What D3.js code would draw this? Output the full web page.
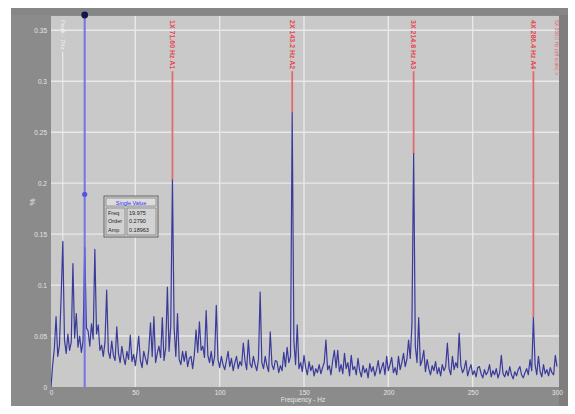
<!DOCTYPE html>
<html>
<head>
<meta charset="utf-8">
<script src="https://cdn.jsdelivr.net/npm/d3@7/dist/d3.min.js"></script>
<style>
  body { margin: 0; background: #fff; }
  svg { display: block; }
</style>
</head>
<body>
<div id="chart"></div>
<script>
// spectrum, one sample per Hz from 0 to 300 Hz
const freqStep = 1;
const amplitudes = [
  0.000, 0.022, 0.038, 0.069, 0.030, 0.041, 0.088, 0.143, 0.046, 0.033,
  0.052, 0.036, 0.044, 0.121, 0.048, 0.072, 0.039, 0.050, 0.034, 0.045,
  0.137, 0.058, 0.055, 0.040, 0.062, 0.047, 0.135, 0.052, 0.061, 0.036,
  0.041, 0.030, 0.044, 0.095, 0.035, 0.028, 0.045, 0.031, 0.026, 0.059,
  0.033, 0.024, 0.040, 0.029, 0.022, 0.035, 0.027, 0.051, 0.025, 0.032,
  0.021, 0.034, 0.050, 0.026, 0.019, 0.035, 0.028, 0.022, 0.037, 0.063,
  0.030, 0.069, 0.024, 0.033, 0.040, 0.029, 0.068, 0.026, 0.038, 0.098,
  0.035, 0.060, 0.203, 0.058, 0.030, 0.072, 0.027, 0.022, 0.035, 0.025,
  0.035, 0.020, 0.028, 0.030, 0.018, 0.032, 0.056, 0.034, 0.064, 0.036,
  0.040, 0.029, 0.075, 0.031, 0.024, 0.035, 0.021, 0.030, 0.080, 0.027,
  0.019, 0.030, 0.022, 0.017, 0.026, 0.035, 0.020, 0.028, 0.016, 0.024,
  0.030, 0.018, 0.025, 0.021, 0.043, 0.026, 0.017, 0.046, 0.023, 0.019,
  0.030, 0.022, 0.016, 0.027, 0.093, 0.024, 0.018, 0.030, 0.021, 0.015,
  0.054, 0.022, 0.017, 0.026, 0.025, 0.014, 0.021, 0.016, 0.034, 0.020,
  0.039, 0.024, 0.030, 0.269, 0.045, 0.022, 0.061, 0.018, 0.024, 0.015,
  0.031, 0.019, 0.012, 0.025, 0.016, 0.021, 0.011, 0.018, 0.014, 0.022,
  0.013, 0.019, 0.024, 0.046, 0.017, 0.021, 0.012, 0.026, 0.036, 0.019,
  0.036, 0.015, 0.022, 0.013, 0.033, 0.018, 0.024, 0.011, 0.031, 0.017,
  0.020, 0.012, 0.028, 0.016, 0.010, 0.021, 0.014, 0.018, 0.009, 0.023,
  0.015, 0.020, 0.011, 0.017, 0.026, 0.013, 0.019, 0.024, 0.012, 0.030,
  0.016, 0.022, 0.029, 0.014, 0.019, 0.012, 0.030, 0.017, 0.024, 0.033,
  0.020, 0.027, 0.046, 0.028, 0.062, 0.229, 0.040, 0.024, 0.068, 0.021,
  0.026, 0.036, 0.015, 0.027, 0.018, 0.012, 0.021, 0.016, 0.025, 0.013,
  0.019, 0.011, 0.022, 0.016, 0.020, 0.043, 0.018, 0.012, 0.030, 0.017,
  0.024, 0.019, 0.053, 0.021, 0.014, 0.018, 0.026, 0.011, 0.017, 0.022,
  0.012, 0.016, 0.010, 0.019, 0.020, 0.013, 0.009, 0.017, 0.012, 0.015,
  0.022, 0.010, 0.016, 0.012, 0.018, 0.009, 0.014, 0.031, 0.013, 0.010,
  0.016, 0.011, 0.020, 0.012, 0.008, 0.015, 0.011, 0.017, 0.020, 0.012,
  0.009, 0.014, 0.018, 0.012, 0.027, 0.016, 0.068, 0.022, 0.012, 0.030,
  0.015, 0.010, 0.022, 0.013, 0.017, 0.011, 0.019, 0.014, 0.012, 0.031,
  0.020
];

const xTicks = [0, 50, 100, 150, 200, 250, 300];
const yTicks = [0, 0.05, 0.1, 0.15, 0.2, 0.25, 0.3, 0.35];
const yTickLabels = ['0', '0.05', '0.1', '0.15', '0.2', '0.25', '0.3', '0.35'];

// harmonic cursors (red), the one past 300 Hz only gets its label at the edge
const harmonicFreqs = [72, 143, 215, 286];
const harmonicLabels = ['1X 71.60 Hz  A1', '2X 143.2 Hz  A2', '3X 214.8 Hz  A3', '4X 286.4 Hz  A4'];
const offscaleLabel = '5X 358.0 Hz  (off scale) >';

// peak cursor (white) and single value cursor (blue)
const peakFreq = 7;
const peakLabel = 'Peak - 7Hz';
const cursorFreq = 19.975;
const cursorAmp = 0.189;
const readoutTitle = 'Single Value';
const readoutNames = ['Freq', 'Order', 'Amp'];
const readoutValues = ['19.975', '0.2790', '0.18963'];

const d3v = window.d3;
const W = 575, H = 414;
const FONT = "'Liberation Sans', Arial, sans-serif";

const svg = d3v.select('#chart').append('svg')
  .attr('width', W).attr('height', H);

// frame
svg.append('rect').attr('x', 11).attr('y', 8).attr('width', 557).attr('height', 398).attr('fill', '#8b8b8b');
svg.append('rect').attr('x', 559).attr('y', 8).attr('width', 9).attr('height', 398).attr('fill', '#7e7e7e');
svg.append('rect').attr('x', 11).attr('y', 8).attr('width', 557).attr('height', 7).attr('fill', '#868686');

const x = d3v.scaleLinear().domain([0, 300]).range([51, 557]);
const y = d3v.scaleLinear().domain([0, 0.364]).range([387, 16]);

// plot area
svg.append('rect').attr('x', 51).attr('y', 16).attr('width', 508).attr('height', 371).attr('fill', '#c9c9c9');

svg.append('clipPath').attr('id', 'clip')
  .append('rect').attr('x', 51).attr('y', 16).attr('width', 508).attr('height', 371);

// Grid
const grid = svg.append('g').attr('stroke', '#e9e9e9').attr('stroke-width', 1.4);
grid.selectAll('.gx').data(xTicks.slice(1, -1)).enter().append('line')
  .attr('x1', d => x(d)).attr('x2', d => x(d)).attr('y1', 16).attr('y2', 387);
grid.selectAll('.gy').data(yTicks.slice(1)).enter().append('line')
  .attr('x1', 51).attr('x2', 559).attr('y1', d => y(d)).attr('y2', d => y(d));

// Axes
const xAxis = svg.append('g').attr('transform', 'translate(0,387)')
  .call(d3v.axisBottom(x).tickValues(xTicks).tickSize(0).tickPadding(3));
const yAxis = svg.append('g').attr('transform', 'translate(51,0)')
  .call(d3v.axisLeft(y).tickValues(yTicks).tickFormat((d, i) => yTickLabels[i]).tickSize(0).tickPadding(4));
[xAxis, yAxis].forEach(a => {
  a.select('.domain').remove();
  a.selectAll('text').attr('fill', '#e6e6e6').attr('font-family', FONT).attr('font-size', '6.5px');
});

svg.append('text').attr('x', 303).attr('y', 402).attr('text-anchor', 'middle')
  .attr('fill', '#e6e6e6').attr('font-family', FONT).attr('font-size', '6.5px').text('Frequency - Hz');
svg.append('text').attr('transform', 'translate(35,202) rotate(-90)').attr('text-anchor', 'middle')
  .attr('fill', '#ececec').attr('font-family', FONT).attr('font-size', '8px').text('%');

const layer = svg.append('g').attr('clip-path', 'url(#clip)');

// vertical cursor with rotated label at the top; line runs from under the label down to the spectrum
function cursor(freq, label, color, size, weight) {
  const cx = x(freq);
  const t = layer.append('text')
    .attr('transform', `translate(${cx},20) rotate(90)`)
    .attr('dy', '0.35em')
    .attr('fill', color).attr('font-family', FONT).attr('font-size', size)
    .attr('font-weight', weight || 'normal')
    .text(label);
  const len = t.node().getComputedTextLength();
  return { cx, end: 20 + len + 2 };
}

// white peak cursor
const pk = cursor(peakFreq, peakLabel, '#f4f4f4', '6px');
layer.append('line').attr('x1', pk.cx).attr('x2', pk.cx).attr('y1', pk.end)
  .attr('y2', y(amplitudes[peakFreq / freqStep])).attr('stroke', '#efefef').attr('stroke-width', 1);

// red harmonic cursors
harmonicFreqs.forEach((f, i) => {
  const c = cursor(f, harmonicLabels[i], '#e8474f', '7px', 'bold');
  layer.append('line').attr('x1', c.cx).attr('x2', c.cx).attr('y1', c.end)
    .attr('y2', y(amplitudes[f / freqStep])).attr('stroke', '#e36a6e').attr('stroke-width', 1.8);
});
cursor(300, offscaleLabel, '#e8676c', '5px');

// spectrum
const line = d3v.line().x((d, i) => x(i * freqStep)).y(d => y(d));
layer.append('path').datum(amplitudes)
  .attr('d', line)
  .attr('fill', 'none')
  .attr('stroke', '#2a2a96')
  .attr('stroke-width', 1.2)
  .attr('stroke-linejoin', 'round')
  .attr('opacity', 0.9);

// blue single value cursor
const bx = x(cursorFreq);
svg.append('line').attr('x1', bx).attr('x2', bx).attr('y1', 15).attr('y2', 387)
  .attr('stroke', '#6b6be8').attr('stroke-width', 2).attr('opacity', 0.9);
svg.append('circle').attr('cx', bx).attr('cy', y(cursorAmp)).attr('r', 2.6).attr('fill', '#5555dd');
svg.append('circle').attr('cx', bx).attr('cy', 15).attr('r', 3.4).attr('fill', '#14144e');

// readout box
const box = svg.append('g').attr('font-family', FONT);
box.append('rect').attr('x', 104).attr('y', 196).attr('width', 54).attr('height', 41)
  .attr('fill', '#d2d2d2').attr('stroke', '#4a4a4a').attr('stroke-width', 0.8);
box.append('rect').attr('x', 106).attr('y', 198).attr('width', 50).attr('height', 8)
  .attr('fill', '#dcdcdc').attr('stroke', '#6a6a6a').attr('stroke-width', 0.6);
box.append('text').attr('x', 131).attr('y', 204.5).attr('text-anchor', 'middle')
  .attr('fill', '#2f2fff').attr('font-size', '5.5px').text(readoutTitle);
box.append('rect').attr('x', 106).attr('y', 208).attr('width', 19).attr('height', 27)
  .attr('fill', 'none').attr('stroke', '#6a6a6a').attr('stroke-width', 0.6);
box.append('rect').attr('x', 127).attr('y', 208).attr('width', 29).attr('height', 27)
  .attr('fill', 'none').attr('stroke', '#6a6a6a').attr('stroke-width', 0.6);
readoutNames.forEach((n, i) => {
  box.append('text').attr('x', 108).attr('y', 215 + i * 8.3)
    .attr('fill', '#222').attr('font-size', '5.5px').text(n);
  box.append('text').attr('x', 129).attr('y', 215 + i * 8.3)
    .attr('fill', '#222').attr('font-size', '5.5px').text(readoutValues[i]);
});
</script>
</body>
</html>
